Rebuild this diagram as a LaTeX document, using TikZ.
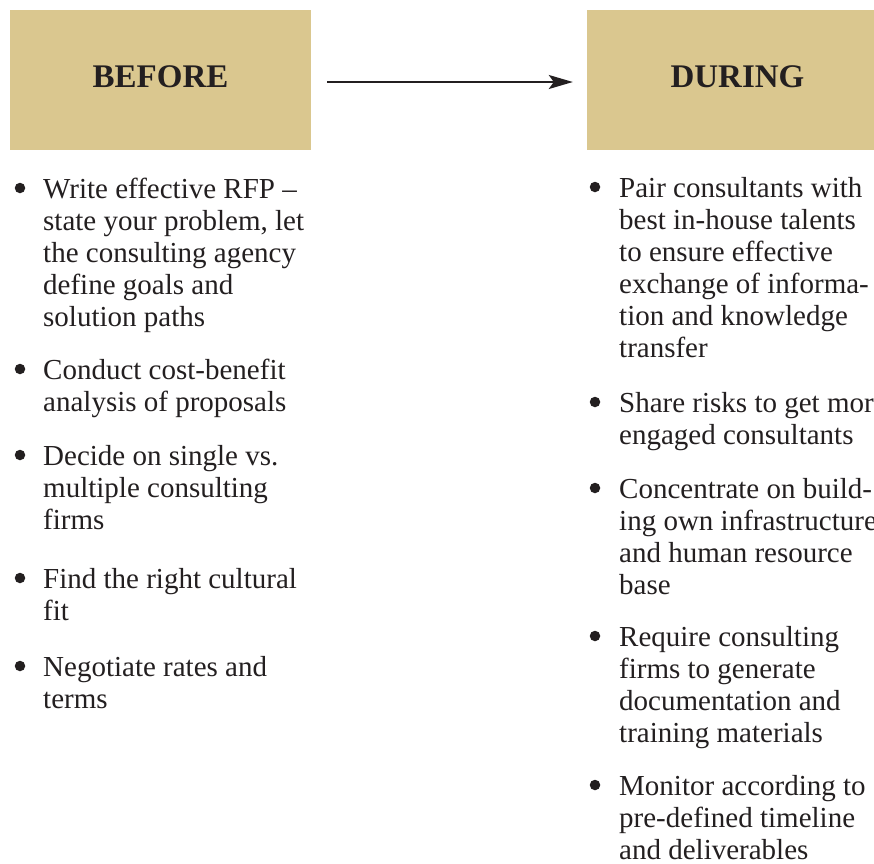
\documentclass[tikz,border=0pt]{standalone}
\usepackage{fontspec}
\setmainfont{Liberation Serif}
\usetikzlibrary{arrows.meta}
\definecolor{boxfill}{HTML}{DAC78F}
\definecolor{ink}{HTML}{231F20}
\tikzset{
  headbox/.style={fill=boxfill, draw=none, minimum width=301pt, minimum height=140pt,
    inner sep=0pt, text=ink, font=\fontsize{33}{36}\selectfont\bfseries,
    text height=22pt, text depth=8pt},
  bul/.style={circle, fill=ink, draw=none, minimum size=10.5pt, inner sep=0pt},
  item/.style={anchor=base west, inner sep=0pt, text=ink},
  flow/.style={-{Stealth[length=24pt,width=14pt,inset=5pt]}, line width=2pt, draw=ink}
}
\newcommand{\itemtext}[1]{\parbox[t]{420pt}{\fontsize{29}{32}\selectfont\raggedright #1}}
\begin{document}
\begin{tikzpicture}[x=1pt,y=-1pt]
\useasboundingbox (0,0) rectangle (874,863);
\clip (0,0) rectangle (874,863);
\fill[white] (0,0) rectangle (874,863);

\node[headbox] (before) at (160.5,80) {BEFORE};
\node[headbox] (during) at (737.5,80) {DURING};
\draw[flow, shorten <=16pt, shorten >=14pt] ([yshift=-2pt]before.east) -- ([yshift=-2pt]during.west);

% left column
\node[bul] (lb1) at (20,188) {};
\node[item] (l1) at (43,198) {\itemtext{Write effective RFP –\\state your problem, let\\the consulting agency\\define goals and\\solution paths}};
\node[bul] (lb2) at (20,369) {};
\node[item] (l2) at (43,379) {\itemtext{Conduct cost-benefit\\analysis of proposals}};
\node[bul] (lb3) at (20,455) {};
\node[item] (l3) at (43,465) {\itemtext{Decide on single vs.\\multiple consulting\\firms}};
\node[bul] (lb4) at (20,578) {};
\node[item] (l4) at (43,588) {\itemtext{Find the right cultural\\fit}};
\node[bul] (lb5) at (20,666) {};
\node[item] (l5) at (43,676) {\itemtext{Negotiate rates and\\terms}};

% right column
\node[bul] (rb1) at (595,187) {};
\node[item] (r1) at (619,197) {\itemtext{Pair consultants with\\best in-house talents\\to ensure effective\\exchange of informa-\\tion and knowledge\\transfer}};
\node[bul] (rb2) at (595,402) {};
\node[item] (r2) at (619,412) {\itemtext{Share risks to get more\\engaged consultants}};
\node[bul] (rb3) at (595,488) {};
\node[item] (r3) at (619,498) {\itemtext{Concentrate on build-\\ing own infrastructure\\and human resource\\base}};
\node[bul] (rb4) at (595,636) {};
\node[item] (r4) at (619,646) {\itemtext{Require consulting\\firms to generate\\documentation and\\training materials}};
\node[bul] (rb5) at (595,785) {};
\node[item] (r5) at (619,795) {\itemtext{Monitor according to\\pre-defined timeline\\and deliverables}};
\end{tikzpicture}
\end{document}
